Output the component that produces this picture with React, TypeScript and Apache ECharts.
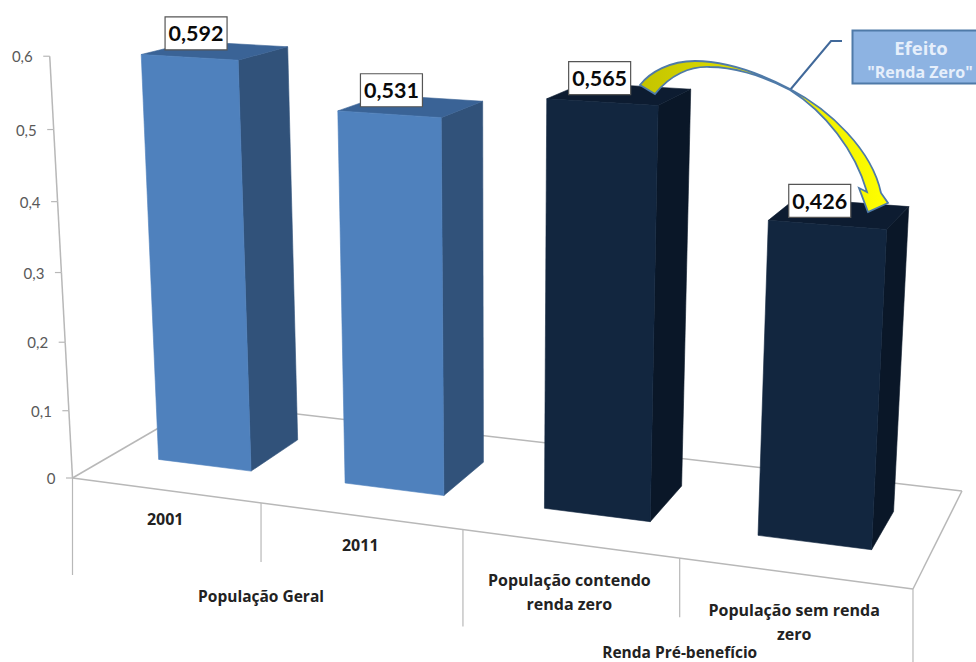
import React, { useEffect, useRef } from "react";
import * as echarts from "echarts";

// Índice de Gini por grupo
const categories = ["2001", "2011", "População contendo\nrenda zero", "População sem renda\nzero"];
const giniValues = [0.592, 0.531, 0.565, 0.426];
const valueLabels = ["0,592", "0,531", "0,565", "0,426"];
const groupNames = ["População Geral", "Renda Pré-benefício"];
const axisTicks = [0, 0.1, 0.2, 0.3, 0.4, 0.5, 0.6];
const tickLabels = ["0", "0,1", "0,2", "0,3", "0,4", "0,5", "0,6"];
const faceColors = [
  ["#4f81bd", "#3a6396", "#31527a"],
  ["#4f81bd", "#3a6396", "#31527a"],
  ["#12263f", "#0d1c31", "#0a1728"],
  ["#12263f", "#0d1c31", "#0a1728"],
];

const FONT = "Lato, Carlito, 'Open Sans', sans-serif";
const LABEL_FONT = "'Open Sans', 'Noto Sans', sans-serif";
const AXIS_GREY = "#b8b8b8";

// Homografia do piso: quadrado unitário (u, v) -> plano da tela
const HG = -0.1324;
const HH = 0.1139;
const floorPoint = (u: number, v: number) => {
  const w = HG * u + HH * v + 1;
  return [(719.6 * u + 152.06 * v + 72.5) / w, (33.02 * u - 29.1 * v + 478) / w];
};

// Eleva um ponto do piso até o valor h, convergindo para o ponto de fuga vertical
const VANISH_X = 500;
const VANISH_Y = 8400;
const lift = (u: number, v: number, h: number) => {
  const [fx, fy] = floorPoint(u, v);
  const scale = 685 + 0.95 * (fy - 460) - 0.01 * (fx - 157.5);
  const rise = scale * h * (1 + 0.0857 * (h - 0.6));
  return [fx + ((fx - VANISH_X) * rise) / (VANISH_Y - fy), fy - rise];
};

const BAR_FILL = 0.504;
const DEPTH_FRONT = 0.3;
const DEPTH_BACK = 0.698;

const unitU = (px: number, cs: any) => (px - cs.x) / cs.width;
const unitH = (py: number, cs: any, max: number) => ((cs.y + cs.height - py) / cs.height) * max;
const MAX_VALUE = 0.6;

const line = (a: number[], b: number[], width = 1.5) => ({
  type: "line",
  shape: { x1: a[0], y1: a[1], x2: b[0], y2: b[1] },
  style: { stroke: AXIS_GREY, lineWidth: width },
});

// Piso e divisões das categorias
const renderFrame = (params: any) => {
  if (params.dataIndex !== 0) return { type: "group", children: [] };
  const corners = [floorPoint(0, 0), floorPoint(1, 0), floorPoint(1, 1), floorPoint(0, 1)];
  const children: any[] = [
    line(corners[0], corners[1]),
    line(corners[1], corners[2]),
    line(corners[2], corners[3]),
    line(corners[3], corners[0]),
  ];
  const n = categories.length;
  for (let i = 0; i <= n; i++) {
    const p = floorPoint(i / n, 0);
    const drop = i % 2 === 0 ? 97 : 59;
    children.push(line(p, [p[0], p[1] + drop], 1.2));
  }
  return { type: "group", children };
};

// Barra em perspectiva: faces superior, lateral e frontal
const renderBar = (params: any, api: any) => {
  const cs = params.coordSys;
  const index = api.value(0);
  const base = api.coord([index, 0]);
  const top = api.coord([index, api.value(1)]);
  const half = (api.size([1, 0])[0] * BAR_FILL) / 2 / cs.width;
  const mid = unitU(base[0], cs);
  const h = unitH(top[1], cs, MAX_VALUE);
  const [u0, u1] = [mid - half, mid + half];
  const [front, side, cap] = [
    [lift(u0, DEPTH_FRONT, 0), lift(u1, DEPTH_FRONT, 0), lift(u1, DEPTH_FRONT, h), lift(u0, DEPTH_FRONT, h)],
    [lift(u1, DEPTH_FRONT, 0), lift(u1, DEPTH_BACK, 0), lift(u1, DEPTH_BACK, h), lift(u1, DEPTH_FRONT, h)],
    [lift(u0, DEPTH_FRONT, h), lift(u1, DEPTH_FRONT, h), lift(u1, DEPTH_BACK, h), lift(u0, DEPTH_BACK, h)],
  ];
  const colors = faceColors[index];
  const face = (points: number[][], fill: string) => ({
    type: "polygon",
    shape: { points },
    style: { fill, stroke: fill, lineWidth: 0.6 },
  });
  return {
    type: "group",
    children: [face(side, colors[2]), face(cap, colors[1]), face(front, colors[0])],
  };
};

// Caixa com o valor acima da face frontal da barra
const renderValueBox = (params: any, api: any) => {
  const cs = params.coordSys;
  const index = api.value(0);
  const base = api.coord([index, 0]);
  const top = api.coord([index, api.value(1)]);
  const p = lift(unitU(base[0], cs), DEPTH_FRONT, unitH(top[1], cs, MAX_VALUE));
  const cx = p[0] + (498 - p[0]) * 0.022;
  const cy = p[1] - 24;
  return {
    type: "group",
    children: [
      {
        type: "rect",
        shape: { x: cx - 31, y: cy - 16.5, width: 62, height: 33 },
        style: { fill: "#ffffff", stroke: "#555555", lineWidth: 1.2 },
      },
      {
        type: "text",
        style: {
          x: cx,
          y: cy,
          text: valueLabels[index],
          align: "center",
          verticalAlign: "middle",
          fill: "#0a0a0a",
          font: `bold 21.5px ${FONT}`,
        },
      },
    ],
  };
};

// Eixo de valores inclinado, no canto frontal esquerdo do piso
const renderTick = (params: any, api: any) => {
  const cs = params.coordSys;
  const value = api.value(1);
  const pt = api.coord([0, value]);
  const p = lift(0, 0, unitH(pt[1], cs, MAX_VALUE));
  const children: any[] = [
    line([p[0] - 6.5, p[1]], p, 1.2),
    {
      type: "text",
      style: {
        x: p[0] - 17,
        y: p[1],
        text: tickLabels[params.dataIndex],
        align: "right",
        verticalAlign: "middle",
        fill: "#595959",
        font: `15px ${FONT}`,
      },
    },
  ];
  if (params.dataIndex > 0) {
    const below = lift(0, 0, unitH(api.coord([0, axisTicks[params.dataIndex - 1]])[1], cs, MAX_VALUE));
    children.unshift(line(below, p, 1.5));
  }
  return { type: "group", children };
};

// Rótulos de categoria sob a borda frontal do piso
const renderCategory = (params: any, api: any) => {
  const cs = params.coordSys;
  const base = api.coord([api.value(0), 0]);
  const p = floorPoint(unitU(base[0], cs), 0);
  const text = categories[params.dataIndex];
  const lines = text.split("\n").length;
  return {
    type: "text",
    style: {
      x: p[0],
      y: p[1] + 28.5 + (lines - 1) * 20,
      text,
      align: "center",
      verticalAlign: "middle",
      lineHeight: 24,
      fill: "#222222",
      font: `bold 16px ${LABEL_FONT}`,
    },
  };
};

const renderGroupName = (params: any) => {
  const p = floorPoint(params.dataIndex * 0.5 + 0.25, 0);
  return {
    type: "text",
    style: {
      x: p[0],
      y: p[1] + 93.5,
      text: groupNames[params.dataIndex],
      align: "center",
      verticalAlign: "middle",
      lineHeight: 17,
      fill: "#222222",
      font: `bold 15.5px ${LABEL_FONT}`,
    },
  };
};

echarts.graphic.registerShape(
  "rendaZeroArrow",
  echarts.graphic.extendPath(
    "M640,85 C650,72 670,61 695,61 C730,61 765,76 790,89 C830,110 872,150 881,193 L888,203 L868,212 L859,188 L867,192 C855,150 825,112 790,90 C760,74 730,67 710,67 C690,66 670,75 655,94 Z",
    {}
  )
);

const App = () => {
  const ref = useRef<HTMLDivElement>(null);
  useEffect(() => {
    const chart = echarts.init(ref.current, undefined, { renderer: "svg" });
    const points = giniValues.map((v, i) => [i, v]);
    chart.setOption({
      animation: false,
      backgroundColor: "#ffffff",
      grid: { left: 72, top: 58, width: 841, height: 420, show: false },
      xAxis: { type: "category", data: categories, show: false },
      yAxis: { type: "value", min: 0, max: MAX_VALUE, interval: 0.1, show: false },
      series: [
        { type: "custom", z: 1, silent: true, data: [[0, 0]], renderItem: renderFrame },
        { type: "custom", z: 2, silent: true, data: axisTicks.map((t) => [0, t]), renderItem: renderTick },
        { type: "custom", z: 3, silent: true, data: points, renderItem: renderBar },
        { type: "custom", z: 4, silent: true, data: points, renderItem: renderValueBox },
        { type: "custom", z: 2, silent: true, data: points, renderItem: renderCategory },
        { type: "custom", z: 2, silent: true, data: [[0, 0], [2, 0]], renderItem: renderGroupName },
      ],
      graphic: [
        {
          type: "polyline",
          z: 10,
          shape: { points: [[842, 41], [831, 41], [790, 90]] },
          style: { stroke: "#41699a", lineWidth: 2, fill: "none" },
        },
        {
          type: "rendaZeroArrow",
          z: 11,
          style: {
            fill: new echarts.graphic.LinearGradient(0, 0, 1, 0, [
              { offset: 0, color: "#c4c400" },
              { offset: 0.55, color: "#e6e600" },
              { offset: 1, color: "#ffff00" },
            ]),
            stroke: "#4f7aa8",
            lineWidth: 1.8,
          },
        },
        {
          type: "rect",
          z: 12,
          shape: { x: 852.5, y: 30.5, width: 128, height: 53 },
          style: { fill: "#8db3e2", stroke: "#4f7aa8", lineWidth: 2 },
        },
        {
          type: "text",
          z: 13,
          style: {
            x: 921,
            y: 47,
            text: "Efeito",
            align: "center",
            verticalAlign: "middle",
            fill: "#e6effb",
            font: `bold 18.5px ${LABEL_FONT}`,
          },
        },
        {
          type: "text",
          z: 13,
          style: {
            x: 920,
            y: 72,
            text: '"Renda Zero"',
            align: "center",
            verticalAlign: "middle",
            fill: "#e6effb",
            font: `bold 16px ${LABEL_FONT}`,
          },
        },
      ],
    });
    return () => chart.dispose();
  }, []);
  return <div ref={ref} style={{ position: "absolute", left: 0, top: 0, width: 976, height: 662 }} />;
};

export default App;
